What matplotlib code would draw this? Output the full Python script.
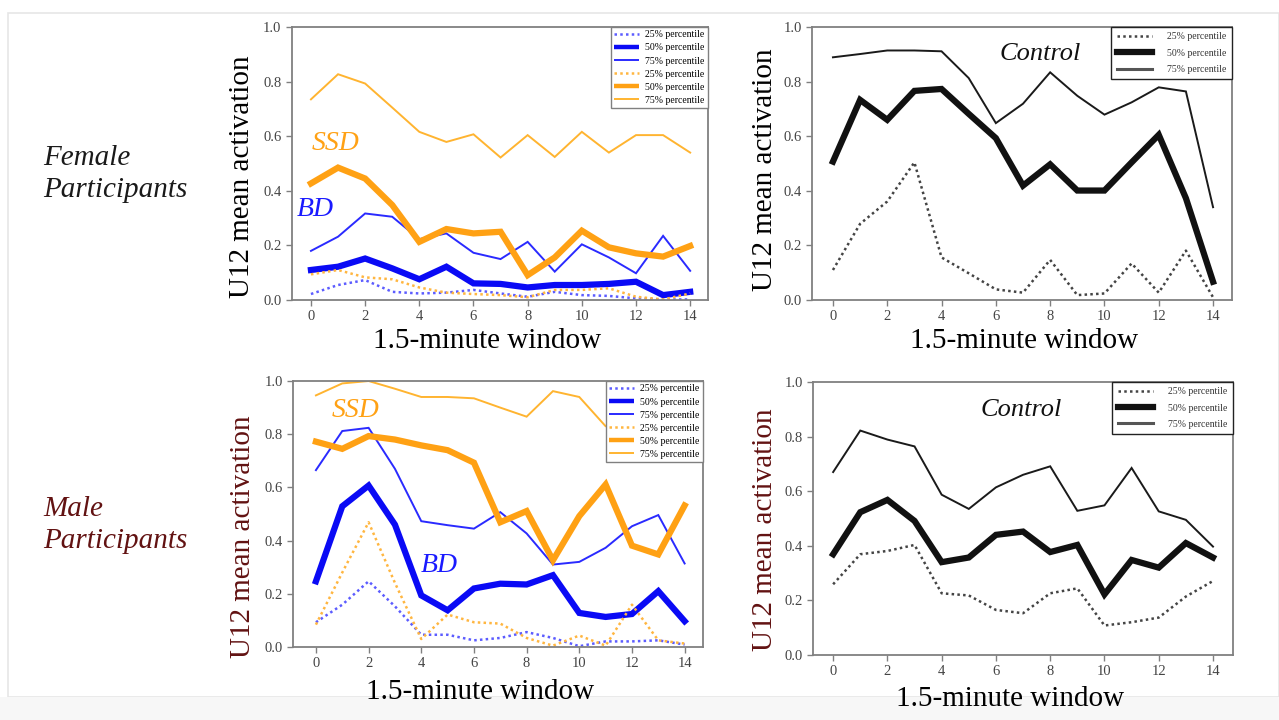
import numpy as np
import matplotlib.pyplot as plt
from matplotlib.patches import Rectangle

plt.rcParams['font.family'] = ['Liberation Serif', 'DejaVu Serif']

windows = list(range(15))
xticks = [0, 2, 4, 6, 8, 10, 12, 14]
yticks = [0.0, 0.2, 0.4, 0.6, 0.8, 1.0]
leg_labels = ['25% percentile', '50% percentile', '75% percentile']

# female participants
f_bd_25 = [0.022, 0.055, 0.073, 0.030, 0.024, 0.027, 0.037, 0.024, 0.012, 0.030, 0.018, 0.015, 0.006, 0.002, 0.002]
f_bd_50 = [0.110, 0.122, 0.152, 0.116, 0.076, 0.122, 0.061, 0.059, 0.046, 0.055, 0.055, 0.059, 0.067, 0.018, 0.030]
f_bd_75 = [0.180, 0.232, 0.317, 0.305, 0.223, 0.244, 0.173, 0.150, 0.213, 0.104, 0.204, 0.156, 0.098, 0.235, 0.107]
f_ssd_25 = [0.094, 0.110, 0.083, 0.076, 0.046, 0.027, 0.022, 0.018, 0.010, 0.037, 0.037, 0.043, 0.012, 0.002, 0.024]
f_ssd_50 = [0.427, 0.485, 0.445, 0.348, 0.213, 0.260, 0.244, 0.250, 0.091, 0.156, 0.254, 0.193, 0.171, 0.159, 0.198]
f_ssd_75 = [0.735, 0.827, 0.793, 0.705, 0.616, 0.579, 0.607, 0.522, 0.604, 0.524, 0.616, 0.540, 0.604, 0.604, 0.540]
f_ctl_25 = [0.110, 0.279, 0.361, 0.504, 0.156, 0.098, 0.039, 0.027, 0.147, 0.018, 0.024, 0.134, 0.027, 0.181, 0.010]
f_ctl_50 = [0.507, 0.733, 0.660, 0.766, 0.773, 0.682, 0.593, 0.419, 0.497, 0.401, 0.401, 0.504, 0.605, 0.373, 0.067]
f_ctl_75 = [0.889, 0.901, 0.914, 0.914, 0.911, 0.813, 0.648, 0.719, 0.834, 0.748, 0.679, 0.724, 0.779, 0.764, 0.340]

# male participants
m_bd_25 = [0.093, 0.159, 0.247, 0.153, 0.046, 0.046, 0.025, 0.034, 0.056, 0.034, 0.003, 0.021, 0.021, 0.025, 0.009]
m_bd_50 = [0.247, 0.529, 0.607, 0.460, 0.194, 0.138, 0.220, 0.238, 0.235, 0.270, 0.128, 0.113, 0.124, 0.210, 0.097]
m_bd_75 = [0.665, 0.812, 0.824, 0.670, 0.473, 0.458, 0.445, 0.507, 0.427, 0.310, 0.320, 0.373, 0.454, 0.496, 0.314]
m_ssd_25 = [0.084, 0.280, 0.469, 0.241, 0.030, 0.122, 0.093, 0.088, 0.034, 0.005, 0.043, 0.005, 0.159, 0.025, 0.013]
m_ssd_50 = [0.772, 0.745, 0.793, 0.780, 0.758, 0.740, 0.693, 0.469, 0.511, 0.326, 0.492, 0.611, 0.381, 0.348, 0.532]
m_ssd_75 = [0.946, 0.991, 1.000, 0.971, 0.940, 0.940, 0.935, 0.900, 0.866, 0.962, 0.940, 0.830, 0.850, 0.820, 0.800]
m_ctl_25 = [0.259, 0.369, 0.381, 0.403, 0.226, 0.218, 0.165, 0.153, 0.226, 0.244, 0.108, 0.120, 0.137, 0.214, 0.271]
m_ctl_50 = [0.369, 0.523, 0.568, 0.491, 0.340, 0.357, 0.440, 0.452, 0.377, 0.403, 0.222, 0.348, 0.320, 0.410, 0.357]
m_ctl_75 = [0.670, 0.822, 0.789, 0.764, 0.587, 0.535, 0.614, 0.660, 0.691, 0.528, 0.548, 0.685, 0.526, 0.495, 0.397]

DOT = (0, (1, 1.3))
blue = ['#5c5cff', '#0a0af5', '#2a2aff']
orange = ['#ffb640', '#ffa114', '#ffb430']
grey = '#808080'


def style_axes(ax, xlim):
    ax.set_xlim(*xlim)
    ax.set_ylim(0, 1)
    ax.set_xticks(xticks)
    ax.set_yticks(yticks)
    ax.set_yticklabels(['%.1f' % v for v in yticks])
    for s in ax.spines.values():
        s.set_color(grey)
        s.set_linewidth(1.3)
    ax.tick_params(direction='out', length=4, width=1, color=grey,
                   labelsize=10.5, labelcolor='#444444')


def patient_panel(ax, bd, ssd, xlim):
    lines = []
    for vals, c, lw, ls in zip(bd, blue, [1.8, 4.5, 1.4], [DOT, '-', '-']):
        l, = ax.plot(windows, vals, color=c, lw=lw, ls=ls, solid_joinstyle='miter')
        lines.append(l)
    for vals, c, lw, ls in zip(ssd, orange, [1.8, 4.5, 1.4], [DOT, '-', '-']):
        l, = ax.plot(windows, vals, color=c, lw=lw, ls=ls, solid_joinstyle='miter')
        lines.append(l)
    leg = ax.legend(lines, leg_labels * 2, loc='upper right', fontsize=7,
                    borderaxespad=0, fancybox=False, framealpha=1,
                    handlelength=2.6, handletextpad=0.6, labelspacing=0.42,
                    borderpad=0.35)
    for h in leg.get_lines():
        h.set_solid_capstyle('butt')
    leg.get_lines()[1].set_linewidth(3.2)
    leg.get_lines()[4].set_linewidth(3.2)
    leg.get_frame().set_edgecolor(grey)
    leg.get_frame().set_linewidth(1.0)
    leg.set_zorder(5)
    style_axes(ax, xlim)


def control_panel(ax, ctl, xlim):
    lines = []
    for vals, c, lw, ls in zip(ctl, ['#444444', '#111111', '#1a1a1a'], [1.8, 4.5, 1.4], [DOT, '-', '-']):
        l, = ax.plot(windows, vals, color=c, lw=lw, ls=ls, solid_joinstyle='miter')
        lines.append(l)
    leg = ax.legend(lines, leg_labels, loc='upper right', fontsize=7,
                    borderaxespad=0, fancybox=False, framealpha=1,
                    handlelength=3.6, handletextpad=1.6, labelspacing=0.75,
                    borderpad=0.55)
    for t in leg.get_texts():
        t.set_color('#333333')
    leg.get_lines()[2].set_color('#555555')
    leg.get_lines()[2].set_linewidth(2.2)
    leg.get_frame().set_edgecolor('#222222')
    leg.get_frame().set_linewidth(1.0)
    style_axes(ax, xlim)


fig = plt.figure(figsize=(12.79, 7.2), dpi=100)

# faint slide frame
fig.patches.append(Rectangle((0.006, 0.032), 0.994, 0.95, transform=fig.transFigure,
                             fill=False, edgecolor='#e6e6e6', lw=1.2))
fig.patches.append(Rectangle((0.0, 0.0), 1.0, 0.032, transform=fig.transFigure,
                             facecolor='#f7f7f7', edgecolor='none'))

ax1 = fig.add_axes([0.2283, 0.5833, 0.3253, 0.3792])
ax2 = fig.add_axes([0.6349, 0.5833, 0.3284, 0.3792])
ax3 = fig.add_axes([0.2291, 0.1014, 0.3206, 0.3694])
ax4 = fig.add_axes([0.6357, 0.0903, 0.3284, 0.3792])

patient_panel(ax1, [f_bd_25, f_bd_50, f_bd_75], [f_ssd_25, f_ssd_50, f_ssd_75], (-0.7, 14.66))
control_panel(ax2, [f_ctl_25, f_ctl_50, f_ctl_75], (-0.77, 14.7))
patient_panel(ax3, [m_bd_25, m_bd_50, m_bd_75], [m_ssd_25, m_ssd_50, m_ssd_75], (-0.87, 14.7))
control_panel(ax4, [m_ctl_25, m_ctl_50, m_ctl_75], (-0.74, 14.74))

ax1.text(0.92, 0.575, 'SSD', color='#ffa114', style='italic', fontsize=20, ha='center', va='center')
ax1.text(0.15, 0.33, 'BD', color='#1a1aff', style='italic', fontsize=20, ha='center', va='center')
ax3.text(1.52, 0.89, 'SSD', color='#ffa114', style='italic', fontsize=20, ha='center', va='center')
ax3.text(4.7, 0.305, 'BD', color='#1a1aff', style='italic', fontsize=20, ha='center', va='center')
ax2.text(7.63, 0.90, 'Control', color='#111111', style='italic', fontsize=19, ha='center', va='center')
ax4.text(6.93, 0.897, 'Control', color='#111111', style='italic', fontsize=19, ha='center', va='center')

# axis titles
dark_red = '#621212'
fig.text(0.189, 0.755, 'U12 mean activation', rotation=90, ha='center', va='center', fontsize=21)
fig.text(0.598, 0.764, 'U12 mean activation', rotation=90, ha='center', va='center', fontsize=21)
fig.text(0.190, 0.254, 'U12 mean activation', rotation=90, ha='center', va='center', fontsize=21, color=dark_red)
fig.text(0.598, 0.264, 'U12 mean activation', rotation=90, ha='center', va='center', fontsize=21, color=dark_red)

fig.text(0.381, 0.527, '1.5-minute window', ha='center', va='center', fontsize=21)
fig.text(0.801, 0.527, '1.5-minute window', ha='center', va='center', fontsize=21)
fig.text(0.375, 0.039, '1.5-minute window', ha='center', va='center', fontsize=21)
fig.text(0.790, 0.029, '1.5-minute window', ha='center', va='center', fontsize=21)

fig.text(0.034, 0.758, 'Female\nParticipants', style='italic', fontsize=21,
         ha='left', va='center', linespacing=1.3, color='#1a1a1a')
fig.text(0.034, 0.271, 'Male\nParticipants', style='italic', fontsize=21,
         ha='left', va='center', linespacing=1.3, color=dark_red)

fig.savefig('out.png', dpi=100)
